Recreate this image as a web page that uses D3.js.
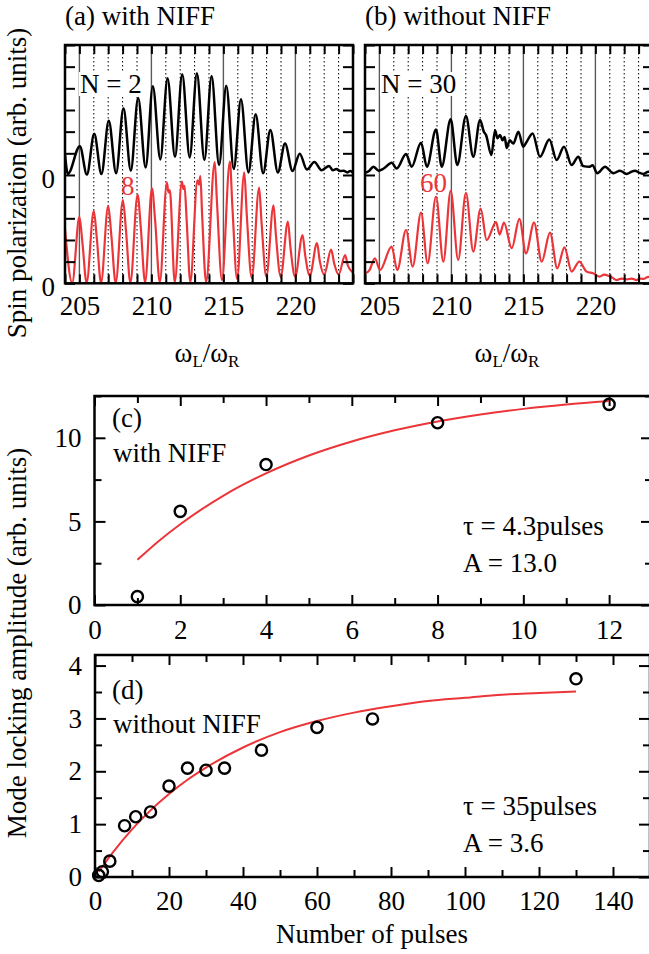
<!DOCTYPE html>
<html><head><meta charset="utf-8">
<script src="https://cdn.jsdelivr.net/npm/d3@7"></script>
<style>
html,body{margin:0;padding:0;background:#fff;}
svg{display:block;}
</style></head><body>
<svg id="chart" width="649" height="954"></svg>
<script>
// ================= DATA =================
// Panels (a),(b): x = omega_L/omega_R, y = spin polarization (arb. units, black trace offset by 5)
const omegaLabels = [205, 210, 215, 220];
const omegaGrid = [205,206,207,208,209,210,211,212,213,214,215,216,217,218,219,220,221,222,223];

const blackN2 = [[204.0,5.95],[204.2,5.05],[205.03,6.33],[205.52,5.02],[206.03,6.9],[206.53,5.04],[207.04,7.5],[207.55,5.08],
 [208.06,8.08],[208.57,5.2],[209.08,8.55],[209.6,5.34],[210.1,9.1],[210.62,5.72],[211.12,9.46],[211.64,5.84],
 [212.14,9.65],[212.66,5.81],[213.16,9.7],[213.68,5.69],[214.18,9.57],[214.7,5.46],[215.2,9.12],[215.72,5.28],
 [216.22,8.5],[216.74,5.12],[217.24,7.8],[217.76,5.08],[218.26,7.08],[218.78,5.12],[219.28,6.45],[219.8,5.18],
 [220.3,5.98],[220.8,5.25],[221.32,5.6],[221.82,5.22],[222.34,5.42],[222.6,5.22],[222.85,5.28],[223.1,5.18],
 [223.35,5.2],[223.6,5.12],[223.8,5.18],[224.0,5.1]];

const redN8 = [[204.0,2.5],[204.5,0.02],[205.0,3.07],[205.22,1.8],[205.5,0.02],[206.0,3.35],[206.22,2.0],[206.5,0.02],
 [207.0,3.58],[207.22,2.2],[207.52,0.02],[208.02,3.84],[208.24,2.4],[208.54,0.02],[209.04,4.1],[209.26,2.6],[209.56,0.05],
 [210.04,4.38],[210.26,2.9],[210.58,0.05],[211.08,4.65],[211.18,4.2],[211.28,4.3],[211.62,0.05],
 [212.12,4.7],[212.22,4.35],[212.3,4.5],[212.45,2.9],[212.7,0.05],[213.2,4.75],[213.3,4.55],[213.4,4.95],[213.52,3.2],[213.8,0.05],
 [214.4,5.6],[214.55,3.8],[214.9,0.15],[215.45,5.62],[215.62,3.6],[215.95,0.2],[216.45,5.12],[216.62,3.2],[216.97,0.25],
 [217.48,4.42],[217.65,2.8],[217.98,0.3],[218.48,3.6],[218.65,2.2],[218.98,0.3],[219.48,2.85],[219.65,1.7],[219.98,0.3],
 [220.5,2.23],[220.68,1.3],[221.0,0.35],[221.5,1.85],[221.7,1.0],[222.0,0.4],[222.48,1.55],[222.7,0.9],[223.0,0.4],
 [223.45,1.3],[223.65,0.8],[224.0,0.5]];

const blackN30 = [[204.0,5.1],[204.3,5.2],[204.58,5.38],[204.95,5.2],[205.3,5.3],[205.85,5.57],[206.2,5.3],[206.85,5.97],
 [207.24,5.38],[207.89,6.49],[208.3,5.38],[208.93,7.1],[209.33,5.38],[209.95,7.57],[210.41,5.46],[211.01,7.72],
 [211.52,5.84],[211.99,7.54],[212.25,7.0],[212.4,6.85],[212.78,5.92],[213.03,7.07],[213.2,6.7],[213.38,6.85],
 [213.55,6.6],[213.7,6.75],[213.84,6.25],[214.05,6.6],[214.3,6.45],[214.65,7.0],[214.99,6.3],[215.2,6.5],
 [215.64,6.92],[216.15,5.84],[216.8,6.64],[217.31,5.69],[217.82,6.3],[218.35,5.46],[218.81,5.84],[219.16,5.41],
 [219.6,5.38],[219.8,5.45],[220.13,5.08],[220.67,5.38],[221.25,5.08],[221.7,5.2],[222.17,5.05],[222.5,5.15],
 [222.75,5.2],[223.05,5.1],[223.33,5.05],[223.68,5.15],[224.0,5.1]];

const redN60 = [[204.0,0.46],[204.3,0.6],[204.69,1.15],[205.04,0.61],[205.85,1.69],[206.24,0.61],[206.85,2.46],[207.31,0.77],
 [207.89,3.26],[208.35,0.92],[208.93,4.0],[209.44,1.0],[209.95,4.27],[210.47,1.08],[211.01,4.18],[211.52,1.46],
 [212.03,3.45],[212.45,2.0],[213.1,2.82],[213.35,2.25],[213.65,2.8],[214.19,1.62],[214.72,2.97],[215.18,1.38],
 [215.74,2.8],[216.27,1.0],[216.85,2.34],[217.35,0.69],[217.85,1.66],[218.35,0.54],[218.88,1.0],[219.39,0.54],
 [219.84,0.46],[220.3,0.31],[220.6,0.4],[220.9,0.35],[221.2,0.25],[221.48,0.15],[221.8,0.22],[222.17,0.18],
 [222.5,0.22],[222.86,0.15],[223.1,0.22],[223.33,0.2],[223.68,0.3],[224.0,0.28]];

// Panel (c): with NIFF
const pulsesC = [1, 2, 4, 8, 12];
const ampC = [0.5, 5.6, 8.4, 10.9, 12.0];
const fitPulsesC = [1, 1.5, 2, 3, 4, 5, 6, 7, 8, 9, 10, 11, 12];
const fitAmpC = [2.70, 3.83, 4.83, 6.53, 7.87, 8.94, 9.78, 10.45, 10.98, 11.40, 11.73, 11.99, 12.20];
const xTicksC = [0, 2, 4, 6, 8, 10, 12];
const yTicksC = [0, 5, 10];

// Panel (d): without NIFF
const pulsesD = [1, 2, 4, 8, 11, 15, 20, 25, 30, 35, 45, 60, 75, 130];
const ampD = [0.03, 0.1, 0.3, 0.97, 1.14, 1.23, 1.72, 2.06, 2.02, 2.06, 2.4, 2.83, 2.99, 3.75];
const fitPulsesD = [1, 5, 10, 15, 20, 25, 30, 40, 50, 60, 70, 80, 90, 100, 110, 120, 130];
const fitAmpD = [0.10, 0.48, 0.90, 1.26, 1.57, 1.84, 2.07, 2.45, 2.74, 2.95, 3.11, 3.23, 3.33, 3.39, 3.45, 3.48, 3.51];
const xTicksD = [0, 20, 40, 60, 80, 100, 120, 140];
const yTicksD = [0, 1, 2, 3, 4];

// ================= DRAWING =================
const FONT = "'Liberation Serif','Times New Roman',Times,serif";
const FS = 27;
const RED = "#ec3539";
const svg = d3.select("#chart").attr("font-family", FONT);

function addAxis(g, axis, transform, values, len, fmt, pad) {
  const a = g.append("g").attr("transform", transform)
    .call(axis.tickValues(values).tickSizeInner(-len).tickSizeOuter(0).tickPadding(pad).tickFormat(fmt));
  a.select(".domain").remove();
  a.selectAll("line").attr("stroke", "#000").attr("stroke-width", 2);
  a.attr("font-family", FONT).attr("font-size", FS);
  a.selectAll("text").attr("fill", "#000");
  return a;
}

// ---------- Panels (a) and (b) ----------
const topAB = 45, botAB = 283.3;
const yAB = d3.scaleLinear().domain([0, 11]).range([botAB, topAB]);
const abPanels = [
  {id: "a", x0: 65, title: "(a) with NIFF", black: blackN2, red: redN8, nLab: "N = 2", nX: 80, rLab: "8", rX: 121, rY: 195, yLabels: true},
  {id: "b", x0: 365, title: "(b) without NIFF", black: blackN30, red: redN60, nLab: "N = 30", nX: 381, rLab: "60", rX: 420, rY: 192, yLabels: false}
];
const defs = svg.append("defs");

abPanels.forEach(p => {
  const x = d3.scaleLinear().domain([204, 224]).range([p.x0, p.x0 + 288]);
  const g = svg.append("g");
  const [L, R] = x.range();
  defs.append("clipPath").attr("id", "clip" + p.id).append("rect")
    .attr("x", L).attr("y", topAB).attr("width", R - L).attr("height", botAB - topAB);

  // grid lines
  g.selectAll("line.grid").data(omegaGrid).join("line")
    .attr("x1", d => x(d)).attr("x2", d => x(d)).attr("y1", topAB).attr("y2", botAB)
    .attr("stroke", d => d % 5 === 0 ? "#5a5a5a" : "#000")
    .attr("stroke-width", d => d % 5 === 0 ? 1.4 : 1)
    .attr("stroke-dasharray", d => d % 5 === 0 ? null : "1.5,2.5");

  // N label with white background
  const nt = g.append("text").attr("x", p.nX).attr("y", 93).attr("font-size", FS).text(p.nLab);
  const bb = nt.node().getBBox();
  g.insert("rect", "text").attr("x", bb.x - 1).attr("y", bb.y + 3).attr("width", bb.width + 2).attr("height", bb.height - 6).attr("fill", "#fff");

  g.append("text").attr("x", p.rX).attr("y", p.rY).attr("font-size", FS).attr("fill", RED).text(p.rLab);

  const line = d3.line().x(d => x(d[0])).y(d => yAB(d[1])).curve(d3.curveMonotoneX);
  const tr = g.append("g").attr("clip-path", `url(#clip${p.id})`);
  tr.append("path").attr("d", line(p.red)).attr("fill", "none").attr("stroke", RED).attr("stroke-width", 2.2).attr("stroke-linejoin", "round");
  tr.append("path").attr("d", line(p.black)).attr("fill", "none").attr("stroke", "#000").attr("stroke-width", 2.5).attr("stroke-linejoin", "round");

  // axes (inward ticks)
  const allX = d3.range(204, 225);
  addAxis(g, d3.axisBottom(x), `translate(0,${botAB})`, allX, 9, d => omegaLabels.includes(d) ? d : "", 13);
  addAxis(g, d3.axisTop(x), `translate(0,${topAB})`, allX, 9, () => "", 0);
  const yl = addAxis(g, d3.axisLeft(yAB), `translate(${L},0)`, d3.range(0, 12), 10,
    d => (p.yLabels && (d === 0 || d === 5)) ? "0" : "", 10);
  yl.selectAll("text").attr("dy", "0.45em");
  addAxis(g, d3.axisRight(yAB), `translate(${R},0)`, d3.range(0, 12), 10, () => "", 0);

  g.append("rect").attr("x", L).attr("y", topAB).attr("width", R - L).attr("height", botAB - topAB)
    .attr("fill", "none").attr("stroke", "#000").attr("stroke-width", 2.5);

  svg.append("text").attr("x", p.x0).attr("y", 25).attr("font-size", FS).text(p.title);

  // omega_L / omega_R
  const t = svg.append("text").attr("x", (L + R) / 2 - 2).attr("y", 362).attr("text-anchor", "middle").attr("font-size", FS);
  t.append("tspan").text("ω");
  t.append("tspan").attr("font-size", 17).attr("dy", 5).text("L");
  t.append("tspan").attr("dy", -5).text("/ω");
  t.append("tspan").attr("font-size", 17).attr("dy", 5).text("R");
});

svg.append("text").attr("transform", "translate(26,183) rotate(-90)").attr("text-anchor", "middle")
  .attr("font-size", FS).text("Spin polarization (arb. units)");

// ---------- Panels (c) and (d) ----------
function fitPanel(cfg) {
  const g = svg.append("g");
  const x = d3.scaleLinear().domain(cfg.xDom).range([cfg.L, cfg.R]);
  const y = d3.scaleLinear().domain(cfg.yDom).range([cfg.B, cfg.T]);

  const major = cfg.xMajor, minor = cfg.xMinor.filter(v => !major.includes(v));
  addAxis(g, d3.axisBottom(x), `translate(0,${cfg.B})`, major, 10, d => d, cfg.xPad);
  addAxis(g, d3.axisBottom(x), `translate(0,${cfg.B})`, minor, 7, () => "", 0);
  addAxis(g, d3.axisTop(x), `translate(0,${cfg.T})`, major, 10, () => "", 0);
  addAxis(g, d3.axisTop(x), `translate(0,${cfg.T})`, minor, 7, () => "", 0);
  const ymaj = cfg.yMajor, ymin = cfg.yMinor.filter(v => !ymaj.includes(v));
  addAxis(g, d3.axisLeft(y), `translate(${cfg.L},0)`, ymaj, 11, d => d, 13);
  addAxis(g, d3.axisLeft(y), `translate(${cfg.L},0)`, ymin, 7, () => "", 0);
  addAxis(g, d3.axisRight(y), `translate(${cfg.R},0)`, ymaj, 11, () => "", 0);
  addAxis(g, d3.axisRight(y), `translate(${cfg.R},0)`, ymin, 7, () => "", 0);

  g.append("rect").attr("x", cfg.L).attr("y", cfg.T).attr("width", cfg.R - cfg.L).attr("height", cfg.B - cfg.T)
    .attr("fill", "none").attr("stroke", "#000").attr("stroke-width", 2.5);

  const fit = cfg.fitX.map((v, i) => [v, cfg.fitY[i]]);
  g.append("path").attr("d", d3.line().x(d => x(d[0])).y(d => y(d[1])).curve(d3.curveMonotoneX)(fit))
    .attr("fill", "none").attr("stroke", RED).attr("stroke-width", 2);

  const pts = cfg.px.map((v, i) => [v, cfg.py[i]]);
  g.selectAll("circle.pt").data(pts).join("circle")
    .attr("cx", d => x(d[0])).attr("cy", d => y(d[1])).attr("r", 5.6)
    .attr("fill", "none").attr("stroke", "#000").attr("stroke-width", 2.4);

  cfg.texts.forEach(t => g.append("text").attr("x", t[0]).attr("y", t[1]).attr("font-size", FS).text(t[2]));
}

fitPanel({
  L: 94.5, R: 652, T: 396, B: 605, xDom: [0, 13], yDom: [0, 12.5],
  xMajor: xTicksC, xMinor: d3.range(0, 14), yMajor: yTicksC, yMinor: [2.5, 7.5, 12.5],
  xPad: 15, px: pulsesC, py: ampC, fitX: fitPulsesC, fitY: fitAmpC,
  texts: [[112, 427, "(c)"], [113, 462, "with NIFF"], [463, 535, "τ = 4.3pulses"], [463, 572, "A = 13.0"]]
});

fitPanel({
  L: 95, R: 650, T: 655, B: 877, xDom: [0, 150], yDom: [0, 4.2],
  xMajor: xTicksD, xMinor: d3.range(0, 151, 10), yMajor: yTicksD, yMinor: [0.5, 1.5, 2.5, 3.5],
  xPad: 14, px: pulsesD, py: ampD, fitX: fitPulsesD, fitY: fitAmpD,
  texts: [[112, 699, "(d)"], [113, 733, "without NIFF"], [463, 815, "τ = 35pulses"], [463, 852, "A = 3.6"]]
});

svg.append("text").attr("transform", "translate(26,643) rotate(-90)").attr("text-anchor", "middle")
  .attr("font-size", FS).text("Mode locking amplitude (arb. units)");
svg.append("text").attr("x", 372).attr("y", 943).attr("text-anchor", "middle")
  .attr("font-size", FS).text("Number of pulses");
</script>
</body></html>
